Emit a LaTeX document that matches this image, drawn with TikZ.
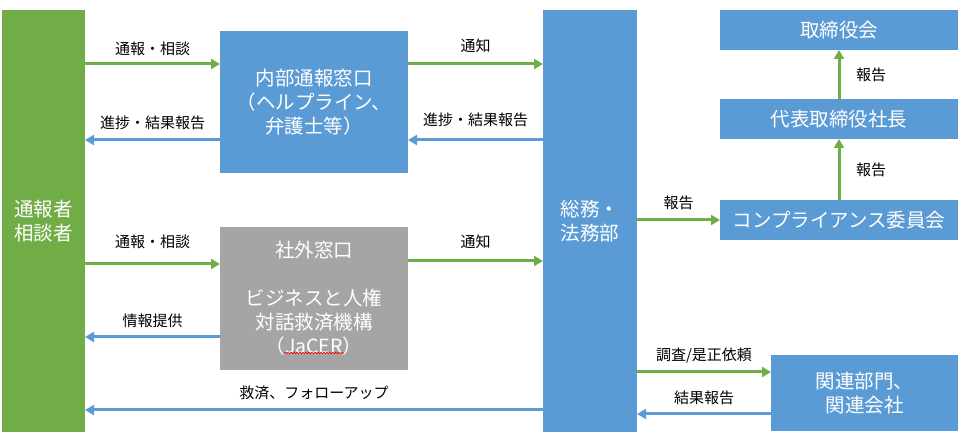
\documentclass[tikz,border=0pt]{standalone}
\usepackage{fontspec}
\setmainfont{Noto Sans CJK JP}
\usetikzlibrary{arrows.meta,decorations.pathmorphing}
\definecolor{gfill}{HTML}{70AD47}
\definecolor{bfill}{HTML}{5B9BD5}
\definecolor{grfill}{HTML}{A5A5A5}
\tikzset{
  boxbase/.style={inner sep=0pt, outer sep=0pt, text=white, align=center,
    font=\fontsize{19.5}{24}\selectfont},
  greenbox/.style={boxbase, fill=gfill},
  bluebox/.style={boxbase, fill=bfill},
  graybox/.style={boxbase, fill=grfill},
  garrow/.style={draw=gfill, line width=3pt, -{Triangle[length=9pt,width=10pt]}},
  barrow/.style={draw=bfill, line width=3pt, -{Triangle[length=9pt,width=10pt]}},
  lbl/.style={font=\fontsize{15}{18}\selectfont, text=black, inner sep=0pt}
}
\begin{document}
\begin{tikzpicture}[x=1pt,y=1pt]
\useasboundingbox (0,0) rectangle (962,-435);
% boxes
\node[greenbox, minimum width=83pt, minimum height=422pt] (L) at (43.5,-221) {通報者\\相談者};
\node[bluebox, minimum width=188pt, minimum height=142pt] (I) at (314,-102) {内部通報窓口\\（ヘルプライン、\\弁護士等）};
\node[graybox, minimum width=188pt, minimum height=143pt] (G) at (314,-298.5) {社外窓口\\[24pt]ビジネスと人権\\対話救済機構\\（JaCER）};
\node[bluebox, minimum width=94pt, minimum height=422pt] (C) at (590,-221) {総務・\\法務部};
\node[bluebox, minimum width=238pt, minimum height=40pt] (B1) at (839,-30) {取締役会};
\node[bluebox, minimum width=238pt, minimum height=40pt] (B2) at (839,-119) {代表取締役社長};
\node[bluebox, minimum width=238pt, minimum height=40pt] (B3) at (839,-220) {コンプライアンス委員会};
\node[bluebox, minimum width=187pt, minimum height=76pt] (R) at (864.5,-393) {関連部門、\\関連会社};
% spell-check underline
\draw[red, line width=0.6pt, decorate, decoration={snake, amplitude=0.8pt, segment length=3pt}] (284,-353) -- (344,-353);
% arrows
\draw[garrow] ([yshift=38pt]I.west -| L.east) -- node[lbl, midway, yshift=15pt] {通報・相談} ([yshift=38pt]I.west);
\draw[barrow] ([yshift=-38pt]I.west) -- node[lbl, midway, yshift=17pt] {進捗・結果報告} ([yshift=-38pt]I.west -| L.east);
\draw[garrow] ([yshift=38pt]I.east) -- node[lbl, midway, yshift=18pt] {通知} ([yshift=38pt]I.east -| C.west);
\draw[barrow] ([yshift=-38pt]I.east -| C.west) -- node[lbl, midway, yshift=20pt] {進捗・結果報告} ([yshift=-38pt]I.east);
\draw[garrow] ([yshift=34.5pt]G.west -| L.east) -- node[lbl, midway, yshift=22pt] {通報・相談} ([yshift=34.5pt]G.west);
\draw[garrow] ([yshift=37.5pt]G.east) -- node[lbl, midway, yshift=19pt] {通知} ([yshift=37.5pt]G.east -| C.west);
\draw[barrow] ([yshift=-38.5pt]G.west) -- node[lbl, midway, yshift=16pt] {情報提供} ([yshift=-38.5pt]G.west -| L.east);
\draw[barrow] ([yshift=-189pt]C.west) -- node[lbl, midway, yshift=17pt] {救済、フォローアップ} ([yshift=-189pt]C.west -| L.east);
\draw[garrow] (B3.west -| C.east) -- node[lbl, midway, yshift=17pt] {報告} (B3.west);
\draw[garrow] (B3.north) -- node[lbl, midway, xshift=32pt] {報告} (B2.south);
\draw[garrow] (B2.north) -- node[lbl, midway, xshift=32pt] {報告} (B1.south);
\draw[garrow] ([yshift=21pt]R.west -| C.east) -- node[lbl, midway, yshift=16pt] {調査/是正依頼} ([yshift=21pt]R.west);
\draw[barrow] ([yshift=-21pt]R.west) -- node[lbl, midway, yshift=16pt] {結果報告} ([yshift=-21pt]R.west -| C.east);
\end{tikzpicture}
\end{document}
